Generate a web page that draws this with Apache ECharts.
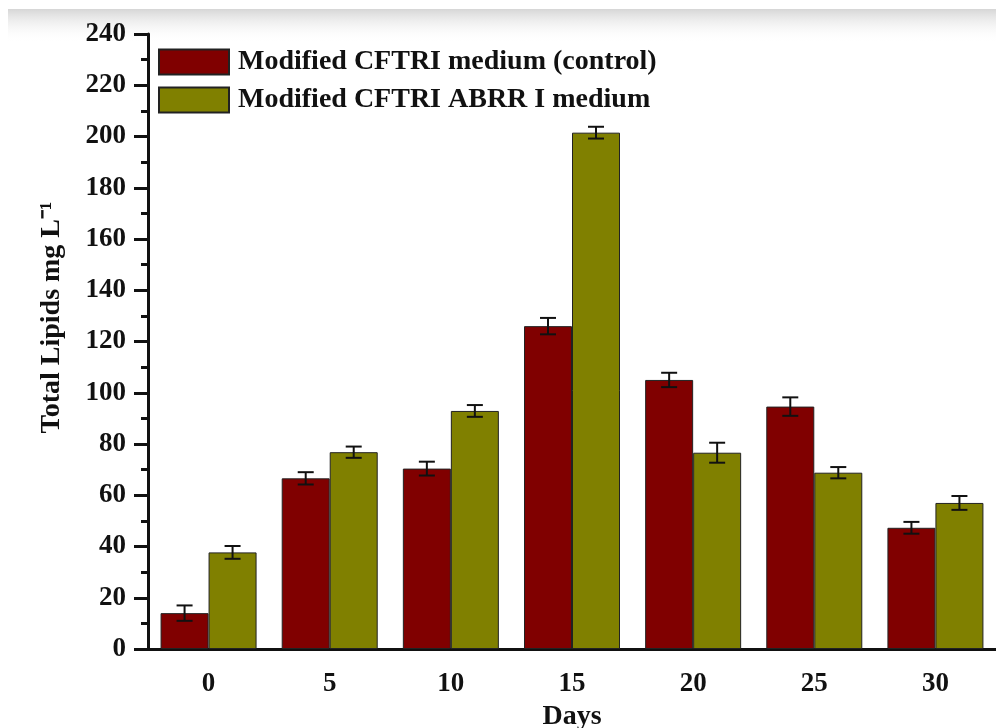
<!DOCTYPE html>
<html>
<head>
<meta charset="utf-8">
<script src="https://cdn.jsdelivr.net/npm/echarts@6/dist/echarts.min.js"></script>
<style>
html,body{margin:0;padding:0;background:#fff;}
#c{width:996px;height:728px;}
</style>
</head>
<body>
<div id="c"></div>
<script>
var days = ['0', '5', '10', '15', '20', '25', '30'];
var controlName = 'Modified CFTRI medium (control)';
var abrrName = 'Modified CFTRI ABRR I medium';
var controlValues = [14.0, 66.6, 70.4, 126.0, 105.0, 94.6, 47.3];
var controlErrors = [3.0, 2.4, 2.7, 3.2, 2.8, 3.6, 2.3];
var abrrValues = [37.7, 76.8, 92.9, 201.5, 76.6, 68.8, 57.0];
var abrrErrors = [2.5, 2.2, 2.3, 2.3, 3.9, 2.2, 2.7];
var yTicks = {min: 0, max: 240, interval: 20};

var FONT = '"Liberation Serif", "Times New Roman", serif';
var BAR_W = 48;

function errSeries(name, vals, errs, offsetSign) {
  var data = vals.map(function (v, i) { return [i, v - errs[i], v + errs[i]]; });
  return {
    type: 'custom',
    name: name + ' err',
    z: 10,
    silent: true,
    data: data,
    renderItem: function (params, api) {
      var i = api.value(0);
      var lo = api.coord([i, api.value(1)]);
      var hi = api.coord([i, api.value(2)]);
      var x = lo[0] + offsetSign * BAR_W / 2;
      var cap = 8;
      var style = {stroke: '#111', lineWidth: 2};
      return {
        type: 'group',
        children: [
          {type: 'line', shape: {x1: x, y1: lo[1], x2: x, y2: hi[1]}, style: style},
          {type: 'line', shape: {x1: x - cap, y1: lo[1], x2: x + cap, y2: lo[1]}, style: style},
          {type: 'line', shape: {x1: x - cap, y1: hi[1], x2: x + cap, y2: hi[1]}, style: style}
        ]
      };
    }
  };
}

var chart = echarts.init(document.getElementById('c'));
chart.setOption({
  backgroundColor: '#fff',
  animation: false,
  textStyle: {fontFamily: FONT},
  graphic: [{
    type: 'rect', z: -10, silent: true,
    shape: {x: 8, y: 9, width: 988, height: 34},
    style: {fill: new echarts.graphic.LinearGradient(0, 0, 0, 1, [
      {offset: 0, color: '#d6d6d6'}, {offset: 1, color: 'rgba(255,255,255,0)'}])}
  }],
  grid: {left: 148, right: 0, top: 34, bottom: 79, containLabel: false, outerBoundsMode: 'none'},
  legend: {
    orient: 'vertical', left: 153, top: 43,
    itemWidth: 70, itemHeight: 25, itemGap: 10,
    icon: 'rect',
    data: [controlName, abrrName],
    textStyle: {fontFamily: FONT, fontWeight: 'bold', fontSize: 28, color: '#111', padding: [0, 0, 0, 4]}
  },
  xAxis: [{
    type: 'category', data: days, position: 'bottom',
    axisLine: {lineStyle: {color: '#111', width: 3}},
    axisTick: {alignWithLabel: true, length: 12, lineStyle: {color: '#111', width: 3}},
    axisLabel: {fontFamily: FONT, fontWeight: 'bold', fontSize: 27, color: '#111', margin: 22},
    name: 'Days', nameLocation: 'middle', nameGap: 54,
    nameTextStyle: {fontFamily: FONT, fontWeight: 'bold', fontSize: 28, color: '#111'}
  }, {
    type: 'category', data: days, position: 'bottom',
    axisLine: {show: false},
    axisTick: {length: 7, lineStyle: {color: '#111', width: 3}},
    axisLabel: {show: false}
  }],
  yAxis: {
    type: 'value', min: yTicks.min, max: yTicks.max, interval: yTicks.interval,
    splitLine: {show: false},
    axisLine: {show: true, lineStyle: {color: '#111', width: 3}},
    axisTick: {show: true, length: 14, lineStyle: {color: '#111', width: 3}},
    minorTick: {show: true, splitNumber: 2, length: 7, lineStyle: {color: '#111', width: 3}},
    axisLabel: {fontFamily: FONT, fontWeight: 'bold', fontSize: 27, color: '#111', margin: 22},
    name: 'Total Lipids mg L\u207B\u00B9', nameLocation: 'middle', nameGap: 82, nameRotate: 90,
    nameTextStyle: {fontFamily: FONT, fontWeight: 'bold', fontSize: 28, color: '#111', padding: [0, 0, 0, 48]}
  },
  series: [{
    type: 'bar', name: controlName, data: controlValues, barWidth: BAR_W, barGap: '0%',
    itemStyle: {color: '#800000', borderColor: '#222', borderWidth: 1}
  }, {
    type: 'bar', name: abrrName, data: abrrValues, barWidth: BAR_W, barGap: '0%',
    itemStyle: {color: '#808000', borderColor: '#222', borderWidth: 1}
  },
  errSeries(controlName, controlValues, controlErrors, -1),
  errSeries(abrrName, abrrValues, abrrErrors, 1)]
});
</script>
</body>
</html>
